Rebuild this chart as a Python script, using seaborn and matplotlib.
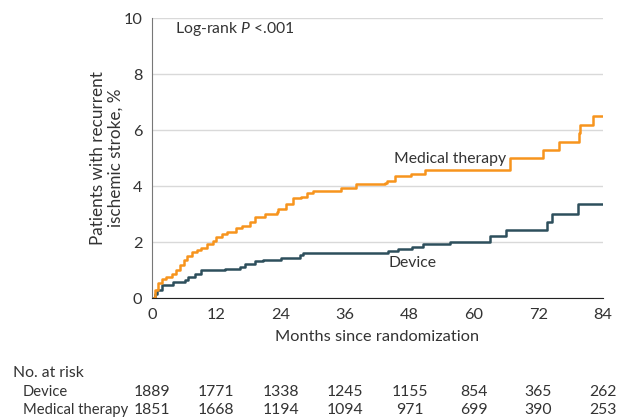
import pandas as pd
import matplotlib.pyplot as plt
import matplotlib.transforms as mtransforms
import seaborn as sns

# Kaplan-Meier style cumulative incidence (%)
device_months = [0, 0.5, 0.9, 1.8, 4.0, 6.1, 6.8, 8.0, 9.2, 13.6, 16.4, 17.3, 19.2, 20.7,
                 24.1, 27.5, 28.2, 44.0, 45.9, 48.5, 50.4, 55.6, 62.9, 66.0, 73.5, 74.6, 79.4, 84]
device_pct = [0, 0.15, 0.29, 0.46, 0.58, 0.64, 0.76, 0.86, 1.0, 1.06, 1.12, 1.21, 1.32, 1.38,
              1.45, 1.54, 1.62, 1.69, 1.75, 1.83, 1.93, 2.01, 2.21, 2.45, 2.73, 3.02, 3.35, 3.35]

medical_months = [0, 0.5, 1.2, 1.8, 2.6, 3.7, 4.5, 5.2, 6.0, 6.6, 7.4, 8.3, 9.2, 10.2, 11.3,
                  12.0, 13.0, 13.9, 15.7, 16.8, 18.2, 19.2, 21.0, 23.2, 23.5, 24.8, 25.0, 26.3,
                  27.8, 28.8, 30.0, 35.3, 37.2, 38.0, 43.4, 43.7, 45.2, 48.3, 50.8, 66.7, 72.9,
                  75.9, 79.5, 79.7, 82.2, 84]
medical_pct = [0, 0.3, 0.55, 0.70, 0.75, 0.85, 1.0, 1.2, 1.35, 1.5, 1.65, 1.72, 1.8, 1.95, 2.05,
               2.19, 2.28, 2.37, 2.49, 2.56, 2.73, 2.9, 3.02, 3.08, 3.18, 3.2, 3.38, 3.56,
               3.62, 3.74, 3.83, 3.92, 3.95, 4.07, 4.1, 4.19, 4.36, 4.43, 4.57, 4.99, 5.29,
               5.56, 5.88, 6.2, 6.51, 6.51]

risk_months = [0, 12, 24, 36, 48, 60, 72, 84]
device_at_risk = [1889, 1771, 1338, 1245, 1155, 854, 365, 262]
medical_at_risk = [1851, 1668, 1194, 1094, 971, 699, 390, 253]

groups = ['Device', 'Medical therapy']
colors = {'Device': '#2d4f5c', 'Medical therapy': '#f7941d'}

sns.set_style('white')
FONT = ['Lato', 'DejaVu Sans']
plt.rcParams['font.family'] = FONT
plt.rcParams['mathtext.fontset'] = 'custom'
plt.rcParams['mathtext.rm'] = 'Lato'
plt.rcParams['mathtext.it'] = 'Lato:italic'
TXT = '#333333'
FS = 11.3


def main():
    df = pd.concat([
        pd.DataFrame({'month': device_months, 'pct': device_pct, 'group': 'Device'}),
        pd.DataFrame({'month': medical_months, 'pct': medical_pct, 'group': 'Medical therapy'}),
    ])

    fig = plt.figure(figsize=(6.28, 4.2), dpi=100)
    ax = fig.add_axes([0.242, 0.290, 0.718, 0.667])

    sns.lineplot(data=df, x='month', y='pct', hue='group', hue_order=groups,
                 palette=colors, estimator=None, drawstyle='steps-post',
                 linewidth=1.8, legend=False, ax=ax)

    ax.set_xlim(0, 84)
    ax.set_ylim(0, 10)
    ax.set_xticks(risk_months)
    ax.set_yticks(range(0, 11, 2))
    ax.yaxis.grid(True, color='#d9d9d9', linewidth=1)
    ax.set_axisbelow(True)
    for s in ['top', 'right']:
        ax.spines[s].set_visible(False)
    ax.spines['left'].set_color('#777777')
    ax.spines['bottom'].set_color('#222222')
    ax.tick_params(axis='both', direction='out', length=5, width=0.8, colors='#777777',
                   labelcolor=TXT, labelsize=FS + 0.5, pad=2)
    ax.tick_params(axis='x', colors='#222222', labelcolor=TXT)

    ax.set_xlabel('Months since randomization', fontsize=FS + 0.5, color=TXT, labelpad=6)
    ax.set_ylabel('Patients with recurrent\nischemic stroke, %', fontsize=FS + 1, color=TXT,
                  linespacing=1.15)
    ax.yaxis.set_label_coords(-0.062, 0.5)

    ax.text(4.2, 9.6, 'Log-rank $P$ <.001', fontsize=FS, color=TXT, va='center')
    ax.text(45.0, 4.98, 'Medical therapy', fontsize=FS, color=TXT, va='center')
    ax.text(44.0, 1.25, 'Device', fontsize=FS, color=TXT, va='center')

    # number at risk table
    trans = mtransforms.blended_transform_factory(ax.transData, fig.transFigure)
    fig.text(0.021, 0.112, 'No. at risk', fontsize=FS, color=TXT, va='center')
    fig.text(0.036, 0.067, 'Device', fontsize=FS - 0.7, color=TXT, va='center')
    fig.text(0.036, 0.024, 'Medical therapy', fontsize=FS - 0.7, color=TXT, va='center')
    for m, d, r in zip(risk_months, device_at_risk, medical_at_risk):
        ax.text(m, 0.067, str(d), transform=trans, fontsize=FS, color=TXT,
                ha='center', va='center', clip_on=False)
        ax.text(m, 0.024, str(r), transform=trans, fontsize=FS, color=TXT,
                ha='center', va='center', clip_on=False)

    fig.savefig('out.png', dpi=100)


if __name__ == "__main__":
    main()
